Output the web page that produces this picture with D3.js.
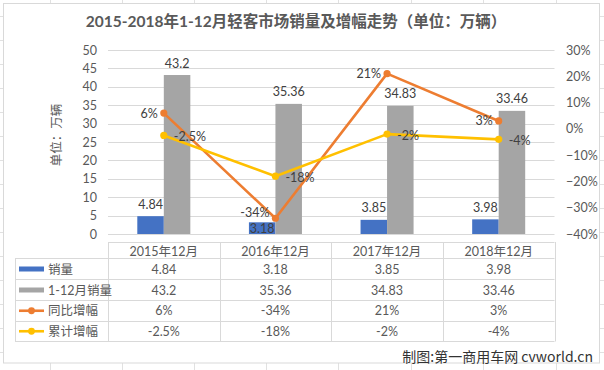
<!DOCTYPE html>
<html><head><meta charset="utf-8">
<script src="https://cdn.jsdelivr.net/npm/d3@7"></script>
<style>
html,body{margin:0;padding:0;background:#fff;}
svg{display:block;font-family:"Lato","Noto Sans CJK SC",sans-serif;}
</style></head>
<body><svg id="c" width="604" height="370"></svg>
<script>
const categories = ["2015年12月","2016年12月","2017年12月","2018年12月"];
const monthSales = [4.84, 3.18, 3.85, 3.98];
const ytdSales = [43.2, 35.36, 34.83, 33.46];
const yoyGrowth = [0.06, -0.34, 0.21, 0.03];
const cumGrowth = [-0.025, -0.18, -0.02, -0.04];
const yoyText = ["6%","-34%","21%","3%"];
const cumText = ["-2.5%","-18%","-2%","-4%"];
const leftTicks = [0,5,10,15,20,25,30,35,40,45,50];
const rightTicks = [-0.4,-0.3,-0.2,-0.1,0,0.1,0.2,0.3];
const seriesNames = ["销量","1-12月销量","同比增幅","累计增幅"];

const colors = {blue:"#4472C4", gray:"#A5A5A5", orange:"#ED7D31", yellow:"#FFC000"};
const txt = "#595959", lbl = "#404040", grid = "#D9D9D9";
// layout-only label nudges
const blueLabelDy = [-12, 6, -12, -12];
const orangeLabelDy = [0, -6, 0, 0];

const svg = d3.select("#c");
// spreadsheet background cell lines
const bg = svg.append("g").attr("stroke","#E1E1E1").attr("stroke-width",1);
[50,122,194,266,338,411,483,556].forEach(x=>{
  bg.append("line").attr("x1",x+0.5).attr("x2",x+0.5).attr("y1",0).attr("y2",3);
  bg.append("line").attr("x1",x+0.5).attr("x2",x+0.5).attr("y1",363).attr("y2",370);
});
d3.range(16,370,24).forEach(y=>{
  bg.append("line").attr("x1",0).attr("x2",3).attr("y1",y+0.5).attr("y2",y+0.5);
  bg.append("line").attr("x1",600).attr("x2",604).attr("y1",y+0.5).attr("y2",y+0.5);
});
// chart border
svg.append("rect").attr("x",3.5).attr("y",3.5).attr("width",596).attr("height",359.5)
  .attr("fill","#fff").attr("stroke","#D9D9D9");

// title
svg.append("text").attr("x",296).attr("y",21).attr("text-anchor","middle")
  .attr("dominant-baseline","central").attr("font-size",15.5).attr("font-weight","bold")
  .attr("fill",txt).text("2015-2018年1-12月轻客市场销量及增幅走势（单位：万辆）");

const x = d3.scaleBand().domain(categories).range([108,554.5]).padding(0);
const y = d3.scaleLinear().domain([0,50]).range([234,50]);
const y2 = d3.scaleLinear().domain([-0.4,0.3]).range([234,50]);
const bw = x.bandwidth();
const gw = bw*0.475;
const xs = d3.scaleBand().domain(["m","y"]).range([(bw-gw)/2,(bw+gw)/2]).padding(0);

// gridlines
svg.append("g").selectAll("line").data(leftTicks).join("line")
  .attr("x1",108).attr("x2",554.5).attr("y1",d=>Math.round(y(d))+0.5).attr("y2",d=>Math.round(y(d))+0.5)
  .attr("stroke",grid);

// left axis
const la = svg.append("g").attr("transform","translate(104,0)")
  .call(d3.axisLeft(y).tickValues(leftTicks).tickSize(0).tickPadding(7));
la.select(".domain").remove();
la.selectAll("text").attr("font-size",12.5).attr("fill",txt).attr("font-family","Lato");
// right axis
const ra = svg.append("g").attr("transform","translate(560,0)")
  .call(d3.axisRight(y2).tickValues(rightTicks).tickSize(0).tickPadding(6).tickFormat(d3.format(".0%")));
ra.select(".domain").remove();
ra.selectAll("text").attr("font-size",12.5).attr("fill",txt).attr("font-family","Lato");

// y axis title
svg.append("text").attr("transform","translate(56,135) rotate(-90)")
  .attr("text-anchor","middle").attr("dominant-baseline","central")
  .attr("font-size",12.5).attr("fill",txt).text("单位：万辆");

// bars
svg.append("g").selectAll("rect").data(monthSales).join("rect")
  .attr("x",(d,i)=>x(categories[i])+xs("m")).attr("width",xs.bandwidth())
  .attr("y",d=>y(d)).attr("height",d=>y(0)-y(d)).attr("fill",colors.blue);
svg.append("g").selectAll("rect").data(ytdSales).join("rect")
  .attr("x",(d,i)=>x(categories[i])+xs("y")).attr("width",xs.bandwidth())
  .attr("y",d=>y(d)).attr("height",d=>y(0)-y(d)).attr("fill",colors.gray);

// bar labels
svg.append("g").selectAll("text").data(monthSales).join("text")
  .attr("x",(d,i)=>x(categories[i])+xs("m")+xs.bandwidth()/2)
  .attr("y",(d,i)=>y(d)+blueLabelDy[i]).attr("text-anchor","middle").attr("dominant-baseline","central")
  .attr("font-size",12.5).attr("fill",lbl).text(d=>d);
svg.append("g").selectAll("text").data(ytdSales).join("text")
  .attr("x",(d,i)=>x(categories[i])+xs("y")+xs.bandwidth()/2)
  .attr("y",d=>y(d)-12).attr("text-anchor","middle").attr("dominant-baseline","central")
  .attr("font-size",12.5).attr("fill",lbl).text(d=>d);

const cx = i=>x(categories[i])+bw/2;
function drawLine(vals,color){
  const g = svg.append("g");
  g.append("path").datum(vals).attr("fill","none").attr("stroke",color).attr("stroke-width",2.6)
    .attr("stroke-linejoin","round")
    .attr("d",d3.line().x((d,i)=>cx(i)).y(d=>y2(d)));
  g.selectAll("circle").data(vals).join("circle").attr("cx",(d,i)=>cx(i)).attr("cy",d=>y2(d))
    .attr("r",3.6).attr("fill",color);
}
drawLine(yoyGrowth,colors.orange);
drawLine(cumGrowth,colors.yellow);

svg.append("g").selectAll("text").data(yoyGrowth).join("text")
  .attr("x",(d,i)=>cx(i)-6).attr("y",(d,i)=>y2(d)+orangeLabelDy[i])
  .attr("text-anchor","end").attr("dominant-baseline","central")
  .attr("font-size",12.5).attr("fill",lbl).text((d,i)=>yoyText[i]);
svg.append("g").selectAll("text").data(cumGrowth).join("text")
  .attr("x",(d,i)=>cx(i)+10).attr("y",d=>y2(d)+1)
  .attr("text-anchor","start").attr("dominant-baseline","central")
  .attr("font-size",12.5).attr("fill",lbl).text((d,i)=>cumText[i]);

// data table
const tb = svg.append("g");
const rowTop = [258,279,300,320.5,341];
const hdrTop = 242;
const tl = tb.append("g").attr("stroke","#D9D9D9").attr("stroke-width",1);
tl.append("line").attr("x1",108).attr("x2",554.5).attr("y1",hdrTop+0.5).attr("y2",hdrTop+0.5);
rowTop.forEach(r=>tl.append("line").attr("x1",15).attr("x2",554.5).attr("y1",Math.round(r)+0.5).attr("y2",Math.round(r)+0.5));
tl.append("line").attr("x1",15.5).attr("x2",15.5).attr("y1",258).attr("y2",341.5);
categories.concat([null]).forEach((c,i)=>{
  const xx = c ? x(c) : x.range()[1];
  tl.append("line").attr("x1",Math.round(xx)+0.5).attr("x2",Math.round(xx)+0.5).attr("y1",hdrTop).attr("y2",341.5);
});
tb.selectAll("text.h").data(categories).join("text").attr("class","h")
  .attr("x",d=>x(d)+bw/2).attr("y",(hdrTop+258)/2+1).attr("text-anchor","middle")
  .attr("dominant-baseline","central").attr("font-size",12.5).attr("fill",txt).text(d=>d);
const rows = [monthSales.map(String), ytdSales.map(String), yoyText, cumText];
rows.forEach((r,ri)=>{
  const yc = (rowTop[ri]+rowTop[ri+1])/2+0.5;
  tb.append("g").selectAll("text").data(r).join("text")
    .attr("x",(d,i)=>cx(i)).attr("y",yc).attr("text-anchor","middle")
    .attr("dominant-baseline","central").attr("font-size",12.5).attr("fill",txt).text(d=>d);
  tb.append("text").attr("x",48).attr("y",yc).attr("dominant-baseline","central")
    .attr("font-size",12.5).attr("fill",txt).text(seriesNames[ri]);
  if(ri<2){
    tb.append("rect").attr("x",19).attr("y",yc-2.5).attr("width",25).attr("height",5)
      .attr("fill",ri===0?colors.blue:colors.gray);
  } else {
    const col = ri===2?colors.orange:colors.yellow;
    tb.append("line").attr("x1",19).attr("x2",44).attr("y1",yc).attr("y2",yc).attr("stroke",col).attr("stroke-width",2.6);
    tb.append("circle").attr("cx",31.5).attr("cy",yc).attr("r",3.4).attr("fill",col);
  }
});

// credit
svg.append("text").attr("x",593).attr("y",356).attr("text-anchor","end")
  .attr("dominant-baseline","central").attr("font-size",14).attr("fill","#333")
  .attr("font-family","'Noto Sans CJK SC',sans-serif").text("制图:第一商用车网 cvworld.cn");
</script></body></html>
